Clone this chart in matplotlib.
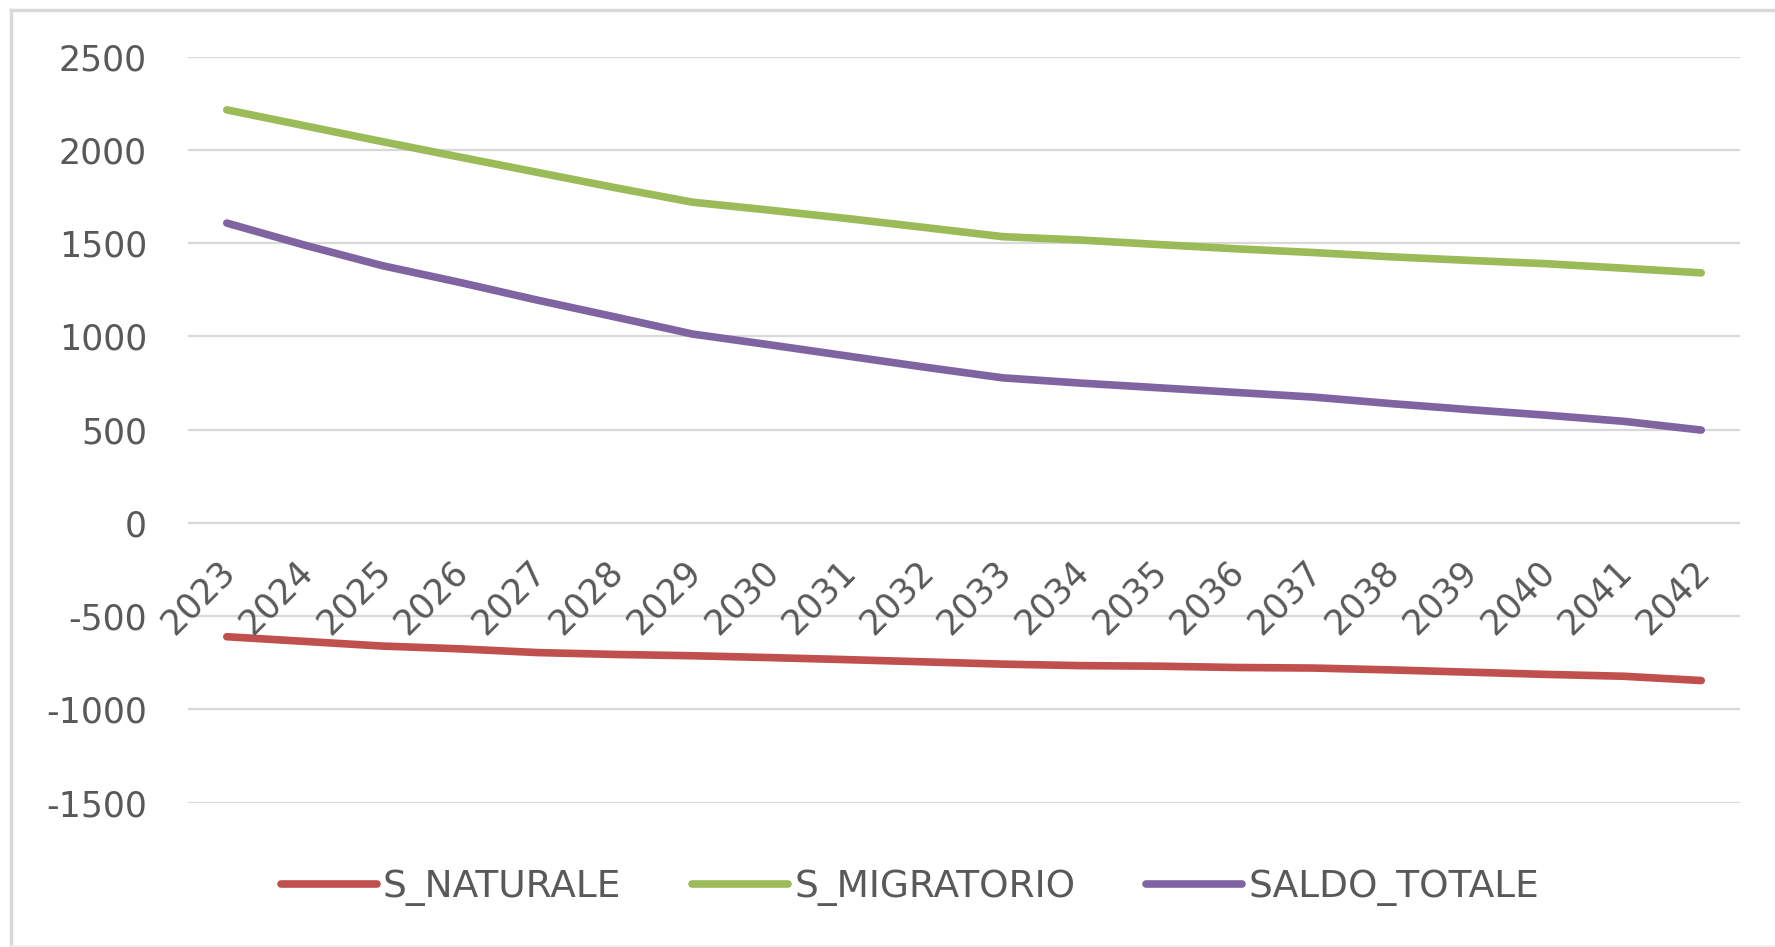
import matplotlib
matplotlib.use("Agg")
import matplotlib.pyplot as plt
from matplotlib.lines import Line2D

plt.rcParams['font.family'] = ['DejaVu Sans']

years = [str(y) for y in range(2023, 2043)]
s_naturale = [-610, -635, -660, -675, -695, -705, -712, -722, -733, -745,
              -757, -765, -768, -775, -778, -788, -800, -812, -822, -845]
s_migratorio = [2215, 2130, 2045, 1962, 1880, 1798, 1720, 1677, 1632, 1584,
                1535, 1517, 1493, 1470, 1450, 1427, 1408, 1390, 1366, 1341]
saldo_totale = [1608, 1490, 1380, 1290, 1195, 1105, 1013, 955, 895, 835,
                778, 750, 725, 700, 675, 640, 608, 578, 545, 498]
series_names = ["S_NATURALE", "S_MIGRATORIO", "SALDO_TOTALE"]
colors = ["#C0504D", "#9BBB59", "#8064A2"]
yticks = [-1500, -1000, -500, 0, 500, 1000, 1500, 2000, 2500]

TXT = "#595959"
GRID = "#D9D9D9"
LW = 5.5

fig = plt.figure(figsize=(17.75, 9.47), dpi=100)
fig.patch.set_facecolor("white")
ax = fig.add_axes([188/1775, 1-802.7/947, (1740-188)/1775, (802.7-56.7)/947])

x = list(range(len(years)))
for vals, name, c in zip([s_naturale, s_migratorio, saldo_totale], series_names, colors):
    ax.plot(x, vals, color=c, lw=LW, solid_capstyle='round', solid_joinstyle='round',
            label=name, zorder=3)

ax.set_xlim(-0.5, len(years) - 0.5)
ax.set_ylim(-1500, 2500)
ax.set_yticks(yticks)
ax.set_yticklabels([str(v) for v in yticks])
ax.tick_params(axis='y', length=0, pad=29.5, labelsize=25, labelcolor=TXT)
ax.set_xticks([])
for sp in ax.spines.values():
    sp.set_visible(False)
ax.yaxis.grid(True, color=GRID, lw=1.6, zorder=0)
ax.set_axisbelow(True)

for i, lab in enumerate(years):
    ax.annotate(lab, xy=(i, 0), xycoords='data', xytext=(3, -43),
                textcoords='offset pixels', rotation=45, rotation_mode='anchor',
                ha='right', va='center', fontsize=25, color=TXT)

handles = [Line2D([0], [0], color=c, lw=LW, solid_capstyle='round') for c in colors]
leg = fig.legend(handles, series_names, loc='center', bbox_to_anchor=(910/1775, 1-888/947),
                 ncol=3, frameon=False, fontsize=27, handlelength=2.56,
                 handletextpad=0.15, columnspacing=1.9)
for t in leg.get_texts():
    t.set_color(TXT)

# chart border
fig.add_artist(Line2D([11/1775, 11/1775], [1-10/947, 1-946/947], transform=fig.transFigure,
                      color=GRID, lw=2.5))
fig.add_artist(Line2D([11/1775, 1.0], [1-10/947, 1-10/947], transform=fig.transFigure,
                      color=GRID, lw=2.5))
fig.add_artist(Line2D([11/1775, 1.0], [1-945.5/947, 1-945.5/947], transform=fig.transFigure,
                      color="#EEEEEE", lw=1.2))

fig.savefig("out.png", dpi=100, facecolor="white")
